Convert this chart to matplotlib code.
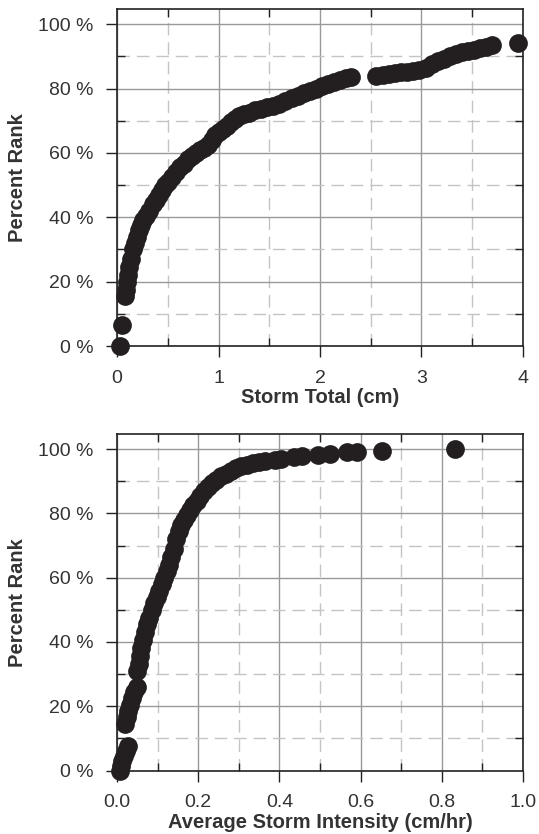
"""
plot.py
-------
Percent rank (cumulative distribution) of storm totals and of
average storm intensity, drawn as two stacked scatter panels.

Output:
    out.png
"""

import matplotlib
matplotlib.use("Agg")
import matplotlib.pyplot as plt
from matplotlib.ticker import MultipleLocator, FuncFormatter

# ── Data: storm total (cm) vs percent rank ──
storm_total = [
    0.03, 0.05, 0.08, 0.09, 0.10, 0.11, 0.12, 0.14, 0.16, 0.18,
    0.20, 0.22, 0.24, 0.26, 0.29, 0.32, 0.35, 0.38, 0.41, 0.44,
    0.47, 0.50, 0.54, 0.58, 0.62, 0.66, 0.70, 0.74, 0.78, 0.82,
    0.86, 0.90, 0.94, 0.97, 1.00, 1.04, 1.08, 1.12, 1.16, 1.20,
    1.25, 1.30, 1.36, 1.42, 1.48, 1.54, 1.60, 1.66, 1.72, 1.78,
    1.84, 1.90, 1.96, 2.02, 2.08, 2.14, 2.20, 2.26, 2.31, 2.55,
    2.62, 2.68, 2.74, 2.80, 2.86, 2.92, 2.98, 3.04, 3.10, 3.16,
    3.22, 3.28, 3.34, 3.40, 3.46, 3.52, 3.58, 3.64, 3.69, 3.95,
]
total_rank = [
    0.0, 6.5, 15.5, 17.5, 20.0, 22.0, 24.5, 27.0, 30.0, 32.0,
    34.0, 36.0, 37.5, 39.0, 40.5, 42.0, 44.0, 45.5, 47.0, 48.5,
    50.0, 51.0, 52.5, 54.0, 55.5, 56.5, 58.0, 59.0, 60.0, 61.0,
    61.5, 62.5, 64.0, 65.5, 66.5, 67.5, 68.5, 69.5, 70.5, 71.5,
    72.0, 72.5, 73.2, 73.7, 74.2, 74.5, 75.2, 76.2, 77.0, 77.8,
    78.6, 79.3, 80.0, 80.7, 81.4, 82.0, 82.7, 83.2, 83.6, 83.8,
    84.1, 84.4, 84.8, 85.0, 85.1, 85.3, 85.6, 86.5, 87.6, 88.5,
    89.3, 90.0, 90.6, 91.2, 91.7, 92.1, 92.5, 93.0, 93.6, 94.0,
]

# ── Data: average storm intensity (cm/hr) vs percent rank ──
storm_intensity = [
    0.007, 0.010, 0.013, 0.017, 0.021, 0.026,
    0.020, 0.024, 0.028, 0.033, 0.038, 0.043, 0.050,
    0.049, 0.053, 0.057, 0.060, 0.064, 0.069, 0.074, 0.080, 0.086,
    0.092, 0.098, 0.104, 0.110, 0.116, 0.122, 0.128, 0.134, 0.140,
    0.146, 0.152, 0.158, 0.165, 0.172, 0.180, 0.188, 0.196, 0.205,
    0.214, 0.224, 0.234, 0.245, 0.256, 0.268, 0.280, 0.293, 0.306,
    0.320, 0.335, 0.350, 0.365, 0.390, 0.405, 0.435, 0.455, 0.495,
    0.525, 0.566, 0.590, 0.653, 0.833,
]
intensity_rank = [
    0.0, 1.5, 3.0, 4.5, 6.0, 7.5,
    14.5, 16.5, 18.5, 20.5, 22.5, 24.5, 26.0,
    31.0, 33.0, 35.5, 38.0, 40.5, 43.0, 45.5, 47.5, 50.0,
    52.0, 54.0, 56.0, 58.0, 60.0, 62.0, 64.0, 66.5, 69.0,
    72.0, 74.5, 76.5, 78.0, 79.5, 81.0, 82.5, 84.0, 85.5,
    87.0, 88.3, 89.5, 90.5, 91.5, 92.4, 93.2, 94.0, 94.7,
    95.2, 95.6, 96.0, 96.2, 96.6, 97.0, 97.4, 98.0, 98.2,
    98.6, 99.0, 99.2, 99.5, 100.0,
]

DOT_COLOR  = "#231f20"
TEXT_COLOR = "#333333"
FONT       = ["Liberation Sans", "DejaVu Sans"]

plt.rcParams["font.family"] = FONT


def style_panel(ax, x_max, x_major, x_minor, x_fmt, x_label):
    """Grid, ticks and labels shared by both panels."""
    ax.set_xlim(0, x_max)
    ax.set_ylim(0, 104.7)

    ax.xaxis.set_major_locator(MultipleLocator(x_major))
    ax.xaxis.set_minor_locator(MultipleLocator(x_minor))
    ax.yaxis.set_major_locator(MultipleLocator(20))
    ax.yaxis.set_minor_locator(MultipleLocator(10))
    ax.yaxis.set_major_formatter(FuncFormatter(lambda v, p: f"{int(round(v))} %"))
    ax.xaxis.set_major_formatter(FuncFormatter(lambda v, p: x_fmt.format(v)))

    # major grid solid, minor grid dashed
    ax.grid(which="major", color="#999999", linewidth=1.0, linestyle="-")
    ax.grid(which="minor", color="#c4c4c4", linewidth=1.0,
            linestyle=(0, (9, 5)))
    ax.set_axisbelow(True)

    ax.tick_params(which="major", direction="out", length=8, width=1.0,
                   color="#222222", labelsize=14, labelcolor=TEXT_COLOR,
                   pad=9, top=False, right=False)
    ax.tick_params(which="minor", direction="in", length=6, width=1.0,
                   color="#222222", top=True, right=True)

    for spine in ax.spines.values():
        spine.set_color("#222222")
        spine.set_linewidth(1.2)

    ax.set_xlabel(x_label, fontsize=14.5, fontweight="bold", color=TEXT_COLOR)
    ax.set_ylabel("Percent Rank", fontsize=14.5, fontweight="bold",
                  color=TEXT_COLOR)
    ax.xaxis.label.set_verticalalignment("center")
    ax.yaxis.label.set_verticalalignment("center")
    ax.xaxis.set_label_coords(0.5, -0.153)
    ax.yaxis.set_label_coords(-0.246, 0.5)


fig = plt.figure(figsize=(5.39, 8.34), dpi=100)

# ── Top panel: storm total ──
ax1 = fig.add_axes([0.2171, 0.5851, 0.7532, 0.4041])
ax1.plot(storm_total, total_rank, "o", color=DOT_COLOR, markersize=13.5,
         markeredgewidth=0, clip_on=False, zorder=3)
style_panel(ax1, 4, 1, 0.5, "{:.0f}", "Storm Total (cm)")

# ── Bottom panel: average storm intensity ──
ax2 = fig.add_axes([0.2171, 0.0761, 0.7532, 0.4035])
ax2.plot(storm_intensity, intensity_rank, "o", color=DOT_COLOR,
         markersize=13.5, markeredgewidth=0, clip_on=False, zorder=3)
style_panel(ax2, 1.0, 0.2, 0.1, "{:.1f}", "Average Storm Intensity (cm/hr)")

fig.savefig("out.png", dpi=100)
